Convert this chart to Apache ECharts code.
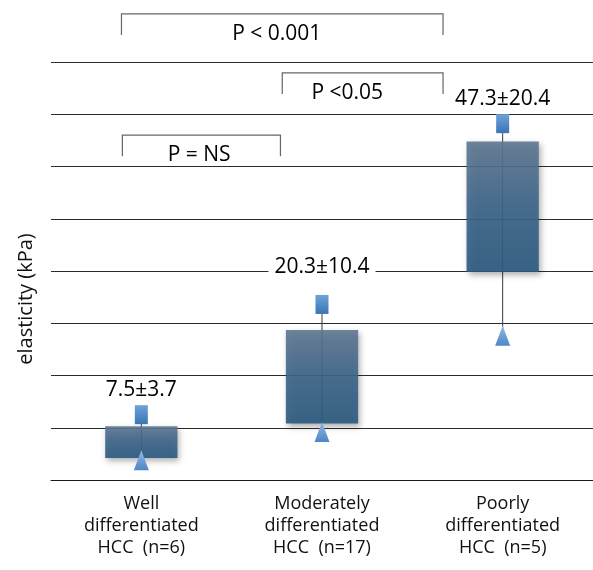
<!DOCTYPE html>
<html>
<head>
<meta charset="utf-8">
<script src="https://cdn.jsdelivr.net/npm/echarts@6/dist/echarts.min.js"></script>
<style>
  html, body { margin: 0; padding: 0; background: #fff; }
  #chart { width: 593px; height: 570px; }
</style>
</head>
<body>
<div id="chart"></div>
<script>
const categories = ['Well\ndifferentiated\nHCC  (n=6)', 'Moderately\ndifferentiated\nHCC  (n=17)', 'Poorly\ndifferentiated\nHCC  (n=5)'];
const means = [7.5, 20.3, 47.3];
const sds = [3.7, 10.4, 20.4];
const boxLow = [4.2, 10.8, 39.8];
const boxHigh = [10.3, 28.7, 64.8];
const maxVals = [12.5, 33.6, 68.2];
const minVals = [3.8, 9.2, 27.6];

// significance brackets: category span (fractional index) and height in kPa
const brackets = [
  { text: 'P < 0.001', from: -0.11, to: 1.67, level: 89.2, textAt: 0.75 },
  { text: 'P <0.05', from: 0.78, to: 1.67, level: 77.9, textAt: 1.14 },
  { text: 'P = NS', from: -0.105, to: 0.77, level: 66.0, textAt: 0.32 }
];

const FONT = '"Open Sans", "Noto Sans", sans-serif';
const chart = echarts.init(document.getElementById('chart'));

const boxFill = new echarts.graphic.LinearGradient(0, 0, 0, 1, [
  { offset: 0, color: '#5f7792' },
  { offset: 0.5, color: '#3b6489' },
  { offset: 1, color: '#2a5980' }
]);

chart.setOption({
  animation: false,
  grid: { left: 51, right: 0, top: 62, bottom: 90 },
  xAxis: [
    {
      type: 'category',
      data: categories,
      axisLine: { lineStyle: { color: '#1a1a1a', width: 1 } },
      axisTick: { show: false },
      axisLabel: { fontFamily: FONT, fontSize: 18, lineHeight: 22, color: '#111', margin: 13 }
    },
    { type: 'value', min: -0.5, max: 2.5, show: false }
  ],
  yAxis: {
    type: 'value',
    min: 0,
    max: 80,
    interval: 10,
    axisLine: { show: false },
    axisTick: { show: false },
    axisLabel: { show: false },
    splitLine: { lineStyle: { color: '#2b2b2b', width: 1 } }
  },
  graphic: [{
    type: 'text',
    x: 26,
    y: 299,
    rotation: Math.PI / 2,
    style: {
      text: 'elasticity (kPa)',
      font: '20px ' + FONT,
      fill: '#111',
      textAlign: 'center',
      textVerticalAlign: 'middle'
    }
  }],
  series: [
    {
      type: 'custom',
      xAxisIndex: 1,
      z: 3,
      data: categories.map((c, i) => [i, boxLow[i], boxHigh[i], minVals[i], maxVals[i]]),
      renderItem: function (params, api) {
        const i = api.value(0);
        const x = api.coord([i, 0])[0];
        const w = api.size([0.4, 0])[0];
        const yLow = api.coord([i, api.value(1)])[1];
        const yHigh = api.coord([i, api.value(2)])[1];
        const yMin = api.coord([i, api.value(3)])[1];
        const yMax = api.coord([i, api.value(4)])[1];
        return {
          type: 'group',
          children: [
            {
              type: 'line',
              shape: { x1: x, y1: yMax, x2: x, y2: yMin },
              style: { stroke: '#3a3a3a', lineWidth: 1 }
            },
            {
              type: 'rect',
              shape: { x: x - w / 2, y: yHigh, width: w, height: yLow - yHigh },
              style: {
                fill: boxFill,
                opacity: 0.9,
                shadowBlur: 6,
                shadowColor: 'rgba(0,0,0,0.35)',
                shadowOffsetX: 2,
                shadowOffsetY: 3
              }
            }
          ]
        };
      }
    },
    {
      type: 'scatter',
      z: 5,
      symbol: 'rect',
      symbolSize: [13, 19],
      data: maxVals.map((v, i) => (i === 1
        ? { value: v, label: { backgroundColor: '#fff', padding: [0, 6], offset: [0, -12] } }
        : v)),
      itemStyle: {
        opacity: 1,
        color: new echarts.graphic.LinearGradient(0, 0, 0, 1, [
          { offset: 0, color: '#6ea3da' },
          { offset: 1, color: '#3a74b4' }
        ])
      },
      label: {
        show: true,
        position: 'top',
        distance: 5,
        fontFamily: FONT,
        fontSize: 21,
        color: '#000',
        formatter: p => means[p.dataIndex] + '±' + sds[p.dataIndex]
      }
    },
    {
      type: 'scatter',
      z: 5,
      symbol: 'triangle',
      symbolSize: [15, 20],
      data: minVals,
      itemStyle: {
        opacity: 1,
        color: new echarts.graphic.LinearGradient(0, 0, 0, 1, [
          { offset: 0, color: '#92b9e6' },
          { offset: 1, color: '#4f86c6' }
        ])
      }
    },
    {
      type: 'custom',
      xAxisIndex: 1,
      z: 6,
      clip: false,
      data: brackets.map(b => [b.from, b.to, b.level, b.textAt]),
      renderItem: function (params, api) {
        const b = brackets[params.dataIndex];
        const p0 = api.coord([api.value(0), api.value(2)]);
        const p1 = api.coord([api.value(1), api.value(2)]);
        const tx = api.coord([api.value(3), api.value(2)])[0];
        return {
          type: 'group',
          children: [
            {
              type: 'polyline',
              shape: { points: [[p0[0], p0[1] + 21], [p0[0], p0[1]], [p1[0], p1[1]], [p1[0], p1[1] + 21]] },
              style: { stroke: '#666', lineWidth: 1.2, fill: null }
            },
            {
              type: 'text',
              x: tx,
              y: p0[1] + 20,
              style: {
                text: b.text,
                font: '21px ' + FONT,
                fill: '#000',
                textAlign: 'center',
                textVerticalAlign: 'middle'
              }
            }
          ]
        };
      }
    }
  ]
});
</script>
</body>
</html>
